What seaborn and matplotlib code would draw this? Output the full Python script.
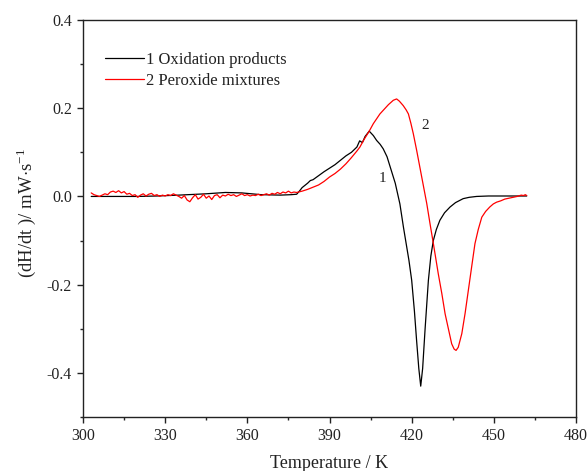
import numpy as np
import pandas as pd
import matplotlib
matplotlib.use("Agg")
import matplotlib.pyplot as plt
import seaborn as sns
from matplotlib.ticker import MultipleLocator

# ---------------- data ----------------
black_T = [303, 310, 320, 327, 335, 345, 352, 358, 365, 372, 376, 378, 379, 380,
           382, 383, 384, 386, 388, 390, 392, 394, 396, 398, 400, 401, 402, 403,
           404.5, 406, 407.2, 408.5, 409.6, 411, 412.5, 414, 415.7, 417, 418.2,
           419, 420, 421, 421.8, 422.6, 423.3, 424, 424.9, 426.1, 427, 427.9,
           429, 430.3, 432, 434, 436, 438.8, 441, 443.7, 448, 455, 462]
black_V = [0.000, 0.000, 0.000, 0.001, 0.003, 0.006, 0.009, 0.008, 0.004, 0.003,
           0.004, 0.005, 0.012, 0.020, 0.030, 0.036, 0.038, 0.047, 0.056, 0.064,
           0.072, 0.082, 0.092, 0.100, 0.112, 0.126, 0.122, 0.136, 0.148, 0.138,
           0.127, 0.118, 0.108, 0.090, 0.060, 0.030, -0.017, -0.070, -0.115,
           -0.145, -0.190, -0.260, -0.327, -0.390, -0.430, -0.390, -0.300, -0.190,
           -0.135, -0.100, -0.075, -0.054, -0.037, -0.024, -0.014, -0.005, -0.002,
           0.000, 0.001, 0.001, 0.001]

red_base_T = list(range(303, 379))
red_base_V = [0.008, 0.004, 0.002, 0.000, 0.003, 0.006, 0.004, 0.010, 0.012, 0.009,
              0.013, 0.008, 0.011, 0.005, 0.007, 0.002, 0.004, -0.002, 0.003, 0.006,
              0.001, 0.005, 0.007, 0.002, 0.004, 0.000, 0.003, 0.001, 0.004, 0.002,
              0.006, 0.003, 0.000, -0.004, 0.002, -0.008, -0.012, -0.003, 0.004,
              -0.006, -0.002, 0.005, -0.004, 0.001, -0.007, 0.002, 0.004, -0.003,
              0.003, 0.001, 0.005, 0.002, 0.004, 0.000, 0.003, 0.006, 0.002, 0.004,
              0.001, 0.003, 0.002, 0.005, 0.002, 0.004, 0.006, 0.003, 0.007, 0.005,
              0.009, 0.006, 0.010, 0.008, 0.012, 0.008, 0.010, 0.009]
red_peak_T = [380, 382, 384, 386, 388, 390, 392, 394, 396, 398, 400, 401.1, 402.5,
              404.5, 406, 408.4, 410, 411.5, 413.3, 414.5, 415.5, 416.9, 418, 418.8,
              419.7, 420.6, 421.8, 423, 424.3, 425.5, 426.7, 428, 429.7, 431, 432.2,
              433.4, 434.6, 435.5, 436.2, 437, 438.3, 439.5, 440.7, 442, 443.1,
              444.3, 445.6, 447, 448.5, 449.8, 451, 452.5, 454, 455.5, 457, 458.5,
              460, 460.8, 461.5, 462]
red_peak_V = [0.012, 0.016, 0.021, 0.026, 0.034, 0.044, 0.052, 0.062, 0.074, 0.088,
              0.103, 0.112, 0.128, 0.148, 0.165, 0.187, 0.198, 0.208, 0.218, 0.221,
              0.216, 0.206, 0.196, 0.187, 0.166, 0.142, 0.105, 0.066, 0.025, -0.016,
              -0.062, -0.110, -0.175, -0.220, -0.266, -0.300, -0.334, -0.346, -0.349,
              -0.342, -0.311, -0.265, -0.213, -0.155, -0.107, -0.075, -0.047, -0.034,
              -0.024, -0.017, -0.013, -0.010, -0.006, -0.004, -0.002, 0.000, 0.003,
              0.002, 0.004, 0.002]
red_T = red_base_T + red_peak_T
red_V = red_base_V + red_peak_V

labels = ["1 Oxidation products", "2 Peroxide mixtures"]
x_ticks = [300, 330, 360, 390, 420, 450, 480]
y_ticks = [-0.4, -0.2, 0.0, 0.2, 0.4]

df = pd.concat([
    pd.DataFrame({"T": black_T, "V": black_V, "s": labels[0]}),
    pd.DataFrame({"T": red_T, "V": red_V, "s": labels[1]}),
], ignore_index=True)

# ---------------- style ----------------
sns.set_style("ticks")
plt.rcParams["font.family"] = ["Liberation Serif", "DejaVu Serif"]
plt.rcParams["mathtext.fontset"] = "custom"
plt.rcParams["mathtext.rm"] = "Liberation Serif"
plt.rcParams["axes.linewidth"] = 1.0

fig = plt.figure(figsize=(5.87, 4.71), dpi=100)
ax = fig.add_axes([0.1414, 0.1146, 0.8399, 0.843])

sns.lineplot(data=df, x="T", y="V", hue="s", palette=["#000000", "#ff0000"],
             sort=False, estimator=None, linewidth=0.9, ax=ax)

ax.set_xlim(300, 480)
ax.set_ylim(-0.5, 0.4)
ax.set_xticks(x_ticks)
ax.set_yticks(y_ticks)
ax.set_yticklabels([f"{v:.1f}" for v in y_ticks])
ax.xaxis.set_minor_locator(MultipleLocator(15))
ax.yaxis.set_minor_locator(MultipleLocator(0.1))
ax.tick_params(which="major", direction="out", length=4, width=1.0, pad=4,
               labelsize=11.5, colors="#222222", labelcolor="#222222")
ax.tick_params(which="minor", direction="out", length=2.5, width=1.0)
for sp in ax.spines.values():
    sp.set_visible(True)
    sp.set_color("#222222")

ax.set_xlabel("Temperature / K", fontsize=13, color="#222222", labelpad=8)
ax.set_ylabel(r"(dH/dt )/ mW$\cdot$s$^{-1}$", fontsize=13.5, color="#222222")
ax.yaxis.set_label_coords(-0.092, 0.515)

leg = ax.legend(loc="upper left", bbox_to_anchor=(0.045, 0.92), frameon=False,
                fontsize=12, handlelength=2.35, handletextpad=0.1,
                labelspacing=0.3, borderpad=0, borderaxespad=0)
for t in leg.get_texts():
    t.set_color("#222222")

ax.text(409.5, 0.041, "1", fontsize=11, ha="center", va="center", color="#222222")
ax.text(424.9, 0.161, "2", fontsize=11, ha="center", va="center", color="#222222")

fig.savefig("out.png", dpi=100)
